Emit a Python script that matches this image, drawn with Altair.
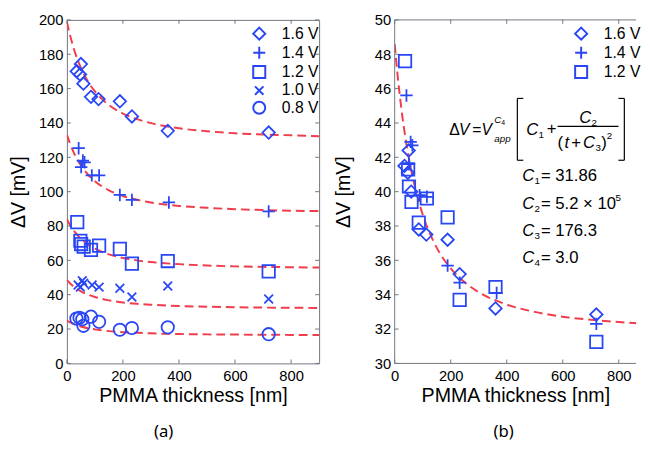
import altair as alt
import pandas as pd

FONT = "Liberation Sans"
BLUE = "#2846f5"
RED = "#f03c4b"
FRAME = "#6f767c"

SERIES_A = ["1.6 V", "1.4 V", "1.2 V", "1.0 V", "0.8 V"]
SERIES_B = ["1.6 V", "1.4 V", "1.2 V"]

# ---------------- panel (a): measured points ----------------
t_a_16 = [35, 50, 47, 59, 86, 113, 189, 232, 360, 720]
v_a_16 = [170.1, 174.3, 168.2, 162.9, 155.2, 153.9, 152.6, 143.8, 135.4, 134.4]
t_a_14 = [42, 57, 63, 51, 89, 115, 189, 232, 364, 720]
v_a_14 = [125.3, 118.1, 117.1, 114.3, 109.5, 109.5, 98.1, 95.2, 93.7, 88.5]
t_a_12 = [37, 48, 51, 60, 86, 115, 189, 232, 360, 720]
v_a_12 = [82.3, 71.4, 69.5, 68.0, 66.1, 68.6, 66.7, 58.1, 59.6, 53.6]
t_a_10 = [40, 55, 48, 60, 90, 115, 189, 232, 360, 720]
v_a_10 = [45.7, 48.2, 44.4, 46.7, 45.7, 44.4, 43.8, 38.7, 45.1, 37.5]
t_a_08 = [34, 45, 55, 59, 86, 115, 189, 232, 360, 720]
v_a_08 = [26.1, 26.6, 25.7, 21.9, 27.2, 24.2, 19.6, 20.6, 21.0, 17.0]

# ---------------- panel (a): fitted curves ----------------
t_fit = [0, 10, 25, 50, 75, 100, 150, 200, 250, 300, 400, 500, 600, 700, 800, 900]
fit_a_16 = [199.0, 191.9, 183.1, 172.1, 164.2, 158.4, 150.5, 145.5, 142.2, 139.9, 136.9, 135.2, 134.0, 133.3, 132.8, 132.3]
fit_a_14 = [133.3, 128.5, 122.6, 115.3, 110.0, 106.1, 100.8, 97.5, 95.3, 93.7, 91.7, 90.6, 89.8, 89.3, 88.9, 88.7]
fit_a_12 = [84.0, 80.9, 77.2, 72.6, 69.3, 66.8, 63.5, 61.4, 60.0, 59.0, 57.8, 57.0, 56.5, 56.2, 56.0, 55.8]
fit_a_10 = [48.6, 46.8, 44.7, 42.0, 40.1, 38.7, 36.7, 35.5, 34.7, 34.2, 33.4, 33.0, 32.7, 32.5, 32.4, 32.3]
fit_a_08 = [24.9, 24.0, 22.9, 21.5, 20.5, 19.8, 18.8, 18.2, 17.8, 17.5, 17.1, 16.9, 16.8, 16.7, 16.6, 16.5]

# ---------------- panel (b): normalised points and fit ----------------
t_b_16 = [35, 50, 47, 59, 86, 113, 189, 232, 360, 720]
v_b_16 = [41.5, 42.4, 41.1, 40.0, 37.8, 37.5, 37.2, 35.2, 33.2, 32.85]
t_b_14 = [42, 57, 63, 51, 89, 115, 189, 232, 364, 720]
v_b_14 = [45.6, 42.9, 42.7, 41.6, 39.8, 39.7, 35.7, 34.7, 34.1, 32.3]
t_b_12 = [37, 48, 51, 60, 86, 115, 189, 232, 360, 720]
v_b_12 = [47.6, 41.3, 40.3, 39.4, 38.2, 39.6, 38.5, 33.7, 34.45, 31.25]
fit_b = [48.59, 46.84, 44.69, 42.01, 40.09, 38.67, 36.74, 35.53, 34.72, 34.15, 33.43, 33.00, 32.72, 32.54, 32.41, 32.31]

x_ticks = [0, 200, 400, 600, 800]
y_ticks_a = list(range(0, 201, 20))
y_ticks_b = list(range(30, 51, 2))

PLUS = "M-1,0L1,0M0,-1L0,1"
XMARK = "M-0.7,-0.7L0.7,0.7M-0.7,0.7L0.7,-0.7"
SHAPES = ["diamond", PLUS, "square", XMARK, "circle"]

WA, WB, H = 257, 246, 350
XMAX_A, XMAX_B = 900, 862
XT = "PMMA thickness [nm]"
YT = "ΔV [mV]"


def pts(series, ts, vs):
    rows = []
    for s, tt, vv in zip(series, ts, vs):
        rows += [{"t": a, "v": b, "series": s} for a, b in zip(tt, vv)]
    return pd.DataFrame(rows)


pts_a = pts(SERIES_A, [t_a_16, t_a_14, t_a_12, t_a_10, t_a_08],
            [v_a_16, v_a_14, v_a_12, v_a_10, v_a_08])
fits_a = pts(SERIES_A, [t_fit] * 5, [fit_a_16, fit_a_14, fit_a_12, fit_a_10, fit_a_08])
pts_b = pts(SERIES_B, [t_b_16, t_b_14, t_b_12], [v_b_16, v_b_14, v_b_12])
fits_b = pts(["fit"], [t_fit], [fit_b])


def xaxis():
    return alt.Axis(values=x_ticks, ticks=False, domain=False, grid=False, labelFontSize=15,
                    titleFontSize=20, labelPadding=5, titlePadding=3, labelFlush=False,
                    labelColor="black", titleColor="black", labelFont=FONT, titleFont=FONT,
                    titleFontWeight="normal")


def yaxis(vals, tpad):
    return alt.Axis(values=vals, ticks=False, domain=False, grid=False, labelFontSize=15,
                    titleFontSize=20, labelPadding=4, titlePadding=tpad, labelFlush=False,
                    labelColor="black", titleColor="black", labelFont=FONT, titleFont=FONT,
                    titleFontWeight="normal")


def panel(points, fits, series, xmax, ydom, yvals, W, tpad, legx, right_side=True):
    xs = alt.Scale(domain=[0, xmax], nice=False, zero=False)
    ys = alt.Scale(domain=ydom, nice=False, zero=False)
    X = lambda f="t": alt.X(f"{f}:Q", scale=xs, axis=xaxis(), title=XT)
    Y = lambda f="v": alt.Y(f"{f}:Q", scale=ys, axis=yaxis(yvals, tpad), title=YT)

    lines = alt.Chart(fits).mark_line(color=RED, strokeWidth=2, strokeDash=[9, 5],
                                      interpolate="monotone", clip=True).encode(
        x=X(), y=Y(), detail="series:N")

    n = len(series)
    marks = alt.Chart(points).mark_point(filled=False, color=BLUE, strokeWidth=1.8,
                                         size=160, opacity=1).encode(
        x=X(), y=Y(),
        shape=alt.Shape("series:N", scale=alt.Scale(domain=series, range=SHAPES[:n]),
                        legend=alt.Legend(title=None, orient="none", legendX=legx, legendY=6,
                                          labelFontSize=16, labelFont=FONT, labelColor="black",
                                          symbolSize=150, symbolStrokeWidth=2,
                                          symbolStrokeColor=BLUE, symbolFillColor="transparent",
                                          labelOffset=15, rowPadding=-2.5, padding=0)),
    )

    xt = pd.DataFrame({"t": x_ticks})
    yt = pd.DataFrame({"v": yvals})
    tick_layers = [
        alt.Chart(xt).mark_rule(color=FRAME).encode(x=X(), y=alt.value(H), y2=alt.value(H - 4)),
        alt.Chart(xt).mark_rule(color=FRAME).encode(x=X(), y=alt.value(0), y2=alt.value(4)),
        alt.Chart(yt).mark_rule(color=FRAME).encode(y=Y(), x=alt.value(0), x2=alt.value(4)),
    ]
    if right_side:
        tick_layers.append(alt.Chart(yt).mark_rule(color=FRAME).encode(
            y=Y(), x=alt.value(W), x2=alt.value(W - 4)))
    return lines, marks, tick_layers, X, Y


# ---------------- panel (a) ----------------
la, ma, ta, XA, YA = panel(pts_a, fits_a, SERIES_A, XMAX_A, [0, 200], y_ticks_a, WA, 10, 188)
chart_a = alt.layer(la, *ta, ma).properties(
    width=WA, height=H,
    title=alt.TitleParams("(a)", orient="bottom", anchor="middle", dx=-30, offset=19,
                          fontSize=17, fontWeight="normal", font="Noto Sans", color="black"))

# ---------------- panel (b) ----------------
lb, mb, tb, XB, YB = panel(pts_b, fits_b, SERIES_B, XMAX_B, [30, 50], y_ticks_b, WB, 21, 182,
                           right_side=False)
frame_b = [
    alt.Chart().mark_rule(color=FRAME).encode(x=alt.value(0), x2=alt.value(WB), y=alt.value(0)),
    alt.Chart().mark_rule(color=FRAME).encode(x=alt.value(0), x2=alt.value(WB), y=alt.value(H)),
    alt.Chart().mark_rule(color=FRAME).encode(x=alt.value(0), y=alt.value(0), y2=alt.value(H)),
]


def bx(px):
    return px / WB * XMAX_B


def by(py):
    return 50 - py / H * 20


# formula pieces: (pixel x, pixel y inside plot, text, font size, italic)
pieces = [
    (55.5, 112, "Δ", 16, False), (65.5, 112, "V", 16, True), (79, 112, "=", 16, False),
    (88.5, 112, "V", 16, True), (101.5, 102, "C", 10, True), (108.5, 105, "4", 7, False),
    (101.5, 121, "app", 10, True),
    (134, 112, "C", 17, True), (146.5, 117, "1", 10, False), (155, 111, "+", 17, False),
    (188, 100, "C", 17, True), (200.5, 105, "2", 10, False),
    (166, 126, "(", 17, False), (173, 126, "t", 17, True), (180, 126, "+", 17, False),
    (192, 126, "C", 17, True), (204.5, 131, "3", 10, False), (210.5, 126, ")", 17, False),
    (216, 118, "2", 10, False),
]
const_rows = [("1", "= 31.86", 159), ("2", "= 5.2 × 10", 188), ("3", "= 176.3", 215),
              ("4", "= 3.0", 243)]
for sub, rest, yy in const_rows:
    pieces += [(130, yy, "C", 17, True), (142.5, yy + 5, sub, 10, False),
               (149, yy, rest, 17, False)]
pieces.append((225, 182, "5", 10, False))

ann = pd.DataFrame([{"t": bx(px), "v": by(py), "txt": s, "fs": fs, "it": it}
                    for px, py, s, fs, it in pieces])
ann_it = alt.Chart(ann).transform_filter("datum.it").mark_text(
    align="left", baseline="middle", font=FONT, fontStyle="italic", color="black").encode(
    x=XB(), y=YB(), text="txt:N", size=alt.Size("fs:Q", scale=None, legend=None))
ann_rm = alt.Chart(ann).transform_filter("!datum.it").mark_text(
    align="left", baseline="middle", font=FONT, color="black").encode(
    x=XB(), y=YB(), text="txt:N", size=alt.Size("fs:Q", scale=None, legend=None))

# brackets and fraction bar (pixel segments inside plot)
segs = [(125, 125, 80, 143), (125, 131, 80, 80), (125, 131, 143, 143),
        (234, 234, 80, 143), (228, 234, 80, 80), (228, 234, 143, 143),
        (166, 228, 108.5, 108.5)]
seg_df = pd.DataFrame([{"t": bx(a), "t2": bx(b), "v": by(c), "v2": by(d)} for a, b, c, d in segs])
brackets = alt.Chart(seg_df).mark_rule(color="black", strokeWidth=1.2).encode(
    x=XB(), x2="t2:Q", y=YB(), y2="v2:Q")

chart_b = alt.layer(lb, *frame_b, *tb, ann_it, ann_rm, brackets, mb).properties(
    width=WB, height=H, view=alt.ViewBackground(stroke="transparent"),
    title=alt.TitleParams("(b)", orient="bottom", anchor="middle", dx=-12, offset=19,
                          fontSize=17, fontWeight="normal", font="Noto Sans", color="black"))

chart = alt.hconcat(chart_a, chart_b, spacing=13).resolve_scale(
    x="independent", y="independent", shape="independent"
).properties(padding=0).configure_view(stroke=FRAME, strokeWidth=1)

chart.save("out.html", embed_options={"renderer": "svg", "actions": False})
